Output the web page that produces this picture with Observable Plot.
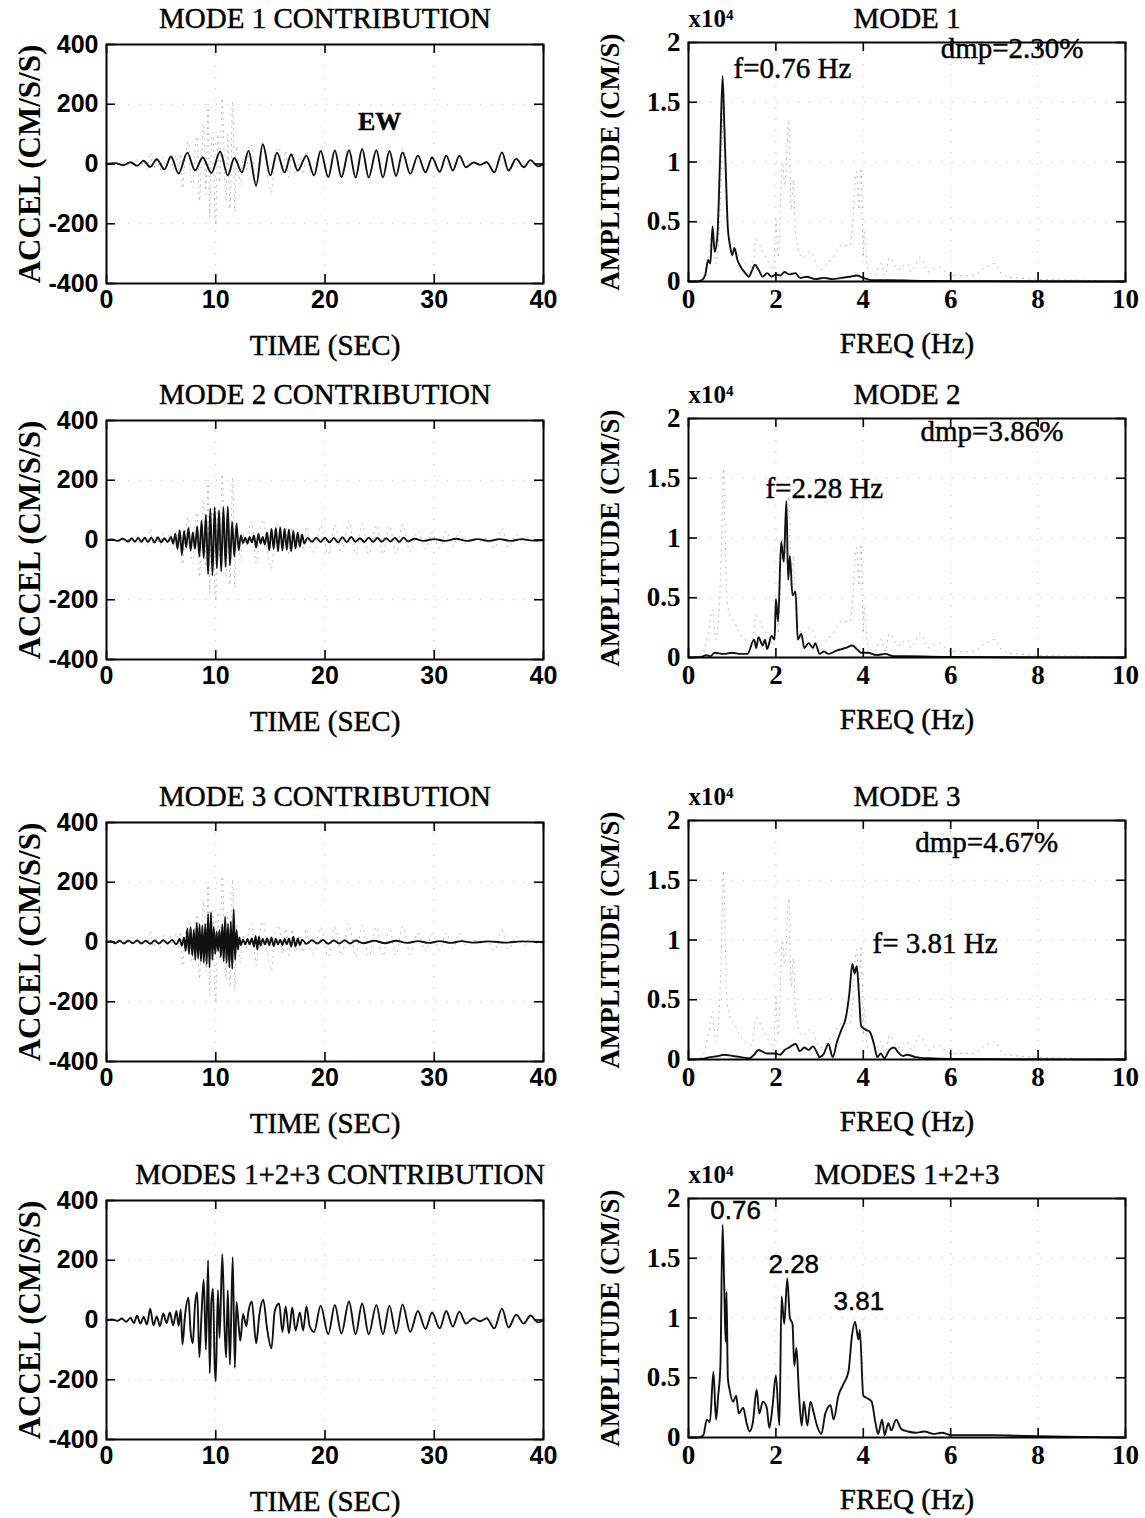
<!DOCTYPE html>
<html><head><meta charset="utf-8">
<script src="https://cdn.jsdelivr.net/npm/d3@7"></script>
<script src="https://cdn.jsdelivr.net/npm/@observablehq/plot@0.6"></script>
<style>
body{margin:0;background:#fff;}
#page{position:relative;width:1145px;height:1518px;overflow:hidden;background:#fff}
.panel{position:absolute}
</style></head><body><div id="page"></div>
<script>
// ---------- tick values ----------
const timeTicks = [0, 10, 20, 30, 40];
const accelTicks = [-400, -200, 0, 200, 400];
const freqTicks = [0, 2, 4, 6, 8, 10];
const ampTicks = [0, 0.5, 1, 1.5, 2];

// ---------- acceleration time histories [time s, accel cm/s/s] ----------
const mode1Accel = [[0,0],[0.8,3],[1.5,-4],[2.2,6],[2.8,-6],[3.4,11],[4.0,-10],[4.6,16],[5.3,-18],[5.9,25],[6.6,-32],[7.4,38],[8.1,-22],[8.8,22],[9.6,-30],[10.4,42],[11.1,-38],[11.7,20],[12.4,-28],[13.0,44],[13.7,-72],[14.3,66],[15.0,-38],[15.6,38],[16.3,-28],[16.9,32],[17.5,-22],[18.3,28],[19.0,-38],[19.6,44],[20.3,-44],[20.9,45],[21.5,-44],[22.2,46],[22.8,-45],[23.4,50],[24.0,-45],[24.7,46],[25.3,-45],[25.9,44],[26.5,-40],[27.1,39],[27.8,-33],[28.5,28],[29.2,-28],[29.8,22],[30.5,-26],[31.1,28],[31.7,-22],[32.3,28],[32.9,-11],[33.6,5],[34.2,-3],[34.8,6],[35.5,-28],[36.2,39],[36.8,-22],[37.5,17],[38.2,-11],[38.8,13],[39.5,-8],[40,0]];

const mode2Accel = [[0,0],[0.5,2],[1.0,-3],[1.5,4],[2.0,-5],[2.3,6],[2.6,-6],[2.9,7],[3.2,-6],[3.5,8],[3.8,-7],[4.1,8],[4.4,-8],[4.7,9],[5.0,-8],[5.3,6],[5.6,-7],[5.9,10],[6.1,-12],[6.3,20],[6.5,-30],[6.7,33],[6.9,-50],[7.1,30],[7.3,-25],[7.5,40],[7.7,-35],[7.9,25],[8.1,-30],[8.3,45],[8.5,-55],[8.7,65],[8.9,-60],[9.1,85],[9.3,-115],[9.5,105],[9.7,-118],[9.9,110],[10.1,-95],[10.3,100],[10.5,-105],[10.7,110],[10.9,-90],[11.1,112],[11.3,-85],[11.5,60],[11.7,-55],[11.9,55],[12.1,-35],[12.3,15],[12.5,-10],[12.7,8],[12.9,-12],[13.1,10],[13.3,-8],[13.5,15],[13.7,-25],[13.9,20],[14.1,-12],[14.3,10],[14.5,-15],[14.7,25],[14.9,-35],[15.1,38],[15.3,-30],[15.5,40],[15.7,-38],[15.9,42],[16.1,-35],[16.3,38],[16.5,-32],[16.7,35],[16.9,-38],[17.1,30],[17.3,-28],[17.5,25],[17.7,-22],[17.9,18],[18.1,-12],[18.4,8],[18.8,-6],[19.2,8],[19.6,-7],[20.0,8],[20.4,-8],[20.8,7],[21.2,-8],[21.6,9],[22.0,-7],[22.4,10],[22.8,-6],[23.2,6],[23.6,-7],[24.0,8],[24.4,-6],[24.8,7],[25.2,-6],[25.6,6],[26.0,-5],[26.4,7],[26.8,-6],[27.2,8],[27.6,-5],[28.2,4],[29,-3],[30,3],[31,-3],[32,4],[33,-3],[34,3],[35,-3],[36,3],[37,-3],[38,3],[39,-2],[40,0]];

const mode3Accel = [[0,0],[0.4,3],[0.8,-4],[1.2,4],[1.6,-5],[2.0,5],[2.4,-4],[2.8,5],[3.2,-5],[3.6,4],[4.0,-6],[4.4,5],[4.8,-5],[5.2,6],[5.6,-5],[6.0,7],[6.4,-8],[6.7,10],[6.9,-12],[7.1,15],[7.25,-30],[7.4,45],[7.55,-40],[7.7,50],[7.85,-45],[8.0,40],[8.13,-60],[8.26,65],[8.39,-55],[8.52,60],[8.65,-65],[8.78,55],[8.91,-70],[9.04,60],[9.17,-75],[9.3,95],[9.43,-85],[9.56,100],[9.69,-60],[9.82,50],[9.95,-40],[10.08,35],[10.21,-30],[10.34,40],[10.47,-50],[10.6,60],[10.73,-65],[10.86,85],[10.99,-70],[11.12,60],[11.25,-85],[11.38,70],[11.51,-90],[11.64,110],[11.77,-60],[11.9,40],[12.03,-25],[12.16,15],[12.3,-10],[12.5,8],[12.7,-8],[12.9,10],[13.1,-8],[13.3,12],[13.5,-15],[13.65,20],[13.8,-25],[13.95,18],[14.1,-12],[14.3,10],[14.5,-8],[14.7,12],[14.9,-10],[15.1,15],[15.3,-14],[15.5,10],[15.7,-8],[15.9,8],[16.1,-10],[16.3,10],[16.5,-8],[16.7,12],[16.9,-15],[17.1,18],[17.3,-15],[17.5,12],[17.7,-10],[17.9,8],[18.3,-6],[18.8,6],[19.3,-5],[19.8,7],[20.3,-6],[20.8,5],[21.3,-5],[21.8,6],[22.3,-5],[22.8,5],[23.5,-4],[24.5,4],[25.5,-4],[26.5,4],[27.5,-3],[28.5,3],[29.5,-3],[30.5,3],[31.5,-3],[32.5,3],[33.5,-2],[35,2],[36.5,-2],[38,2],[40,0]];

const combinedAccel = [[0,0],[0.5,2],[1.0,-3],[1.4,5],[1.8,-6],[2.2,8],[2.5,-10],[2.8,14],[3.1,-12],[3.4,10],[3.7,-15],[4.0,38],[4.3,-18],[4.6,12],[4.9,-20],[5.2,22],[5.5,-10],[5.8,25],[6.1,-18],[6.4,30],[6.6,-20],[6.8,35],[6.95,-82],[7.2,20],[7.5,75],[7.7,-40],[7.9,-78],[8.1,50],[8.3,92],[8.5,-125],[8.7,20],[8.9,135],[9.1,-100],[9.3,200],[9.45,-178],[9.6,60],[9.75,105],[9.9,-150],[10.0,-205],[10.2,100],[10.35,-60],[10.6,220],[10.8,-20],[10.95,-125],[11.1,100],[11.3,-150],[11.55,210],[11.75,-160],[11.9,60],[12.1,-20],[12.25,-70],[12.5,20],[12.8,-20],[13.0,30],[13.3,62],[13.7,-78],[14.0,20],[14.35,68],[14.7,-30],[15.1,-95],[15.4,30],[15.8,55],[16.1,-40],[16.4,45],[16.7,-45],[17.0,42],[17.3,-35],[17.7,25],[18.0,-35],[18.3,45],[18.6,-20],[19.0,-40],[19.6,48],[20.3,-48],[20.9,50],[21.5,-45],[22.2,62],[22.8,-48],[23.4,55],[24.0,-48],[24.7,50],[25.3,-48],[25.9,48],[26.5,-45],[27.1,52],[27.8,-40],[28.5,30],[29.2,-30],[29.8,25],[30.5,-28],[31.1,30],[31.7,-22],[32.3,28],[32.9,-12],[33.6,6],[34.2,-4],[34.8,6],[35.5,-28],[36.2,38],[36.8,-25],[37.5,18],[38.2,-12],[38.8,15],[39.5,-8],[40,0]];

// ---------- Fourier amplitude spectra [freq Hz, amplitude x10^4 cm/s] ----------
const mode1Spec = [[0,0],[0.2,0],[0.3,0.01],[0.38,0.05],[0.45,0.18],[0.5,0.15],[0.55,0.46],[0.6,0.25],[0.66,0.38],[0.72,1.0],[0.78,1.72],[0.82,1.3],[0.86,0.85],[0.9,0.45],[0.95,0.3],[1.0,0.22],[1.05,0.28],[1.12,0.18],[1.2,0.12],[1.3,0.07],[1.38,0.04],[1.45,0.09],[1.52,0.14],[1.6,0.1],[1.7,0.04],[1.8,0.07],[1.9,0.04],[2.0,0.06],[2.1,0.05],[2.2,0.08],[2.3,0.06],[2.45,0.07],[2.55,0.03],[2.7,0.04],[2.9,0.02],[3.1,0.03],[3.3,0.02],[3.5,0.03],[3.7,0.04],[3.85,0.05],[4.0,0.03],[4.2,0.01],[4.6,0.01],[5.5,0.005],[7,0.003],[10,0]];

const mode2Spec = [[0,0],[0.3,0.005],[0.4,0.02],[0.5,0.01],[0.6,0.04],[0.8,0.03],[1.0,0.04],[1.2,0.03],[1.35,0.03],[1.5,0.15],[1.55,0.08],[1.6,0.17],[1.7,0.1],[1.75,0.15],[1.8,0.07],[1.9,0.18],[1.97,0.15],[2.0,0.49],[2.05,0.3],[2.12,0.97],[2.18,0.8],[2.24,1.31],[2.28,0.65],[2.32,0.85],[2.38,0.52],[2.45,0.55],[2.5,0.15],[2.58,0.2],[2.65,0.08],[2.75,0.12],[2.85,0.08],[2.9,0.12],[3.0,0.03],[3.1,0.05],[3.2,0.03],[3.4,0.06],[3.5,0.07],[3.6,0.08],[3.75,0.1],[3.85,0.07],[3.95,0.04],[4.1,0.04],[4.3,0.02],[4.5,0.03],[4.7,0.01],[5,0.01],[6,0.005],[10,0]];

const mode3Spec = [[0,0],[0.3,0.005],[0.5,0.02],[0.7,0.03],[0.8,0.04],[1.0,0.03],[1.2,0.02],[1.4,0.01],[1.5,0.04],[1.6,0.08],[1.8,0.05],[2.0,0.05],[2.1,0.04],[2.2,0.08],[2.3,0.1],[2.45,0.13],[2.55,0.07],[2.65,0.1],[2.75,0.08],[2.85,0.11],[2.95,0.05],[3.0,0.02],[3.1,0.05],[3.2,0.13],[3.3,0.02],[3.4,0.15],[3.5,0.25],[3.6,0.35],[3.68,0.55],[3.75,0.8],[3.8,0.72],[3.85,0.78],[3.9,0.55],[3.95,0.28],[4.05,0.25],[4.15,0.23],[4.25,0.12],[4.32,0.02],[4.4,0.05],[4.48,0.01],[4.6,0.08],[4.7,0.1],[4.8,0.06],[4.9,0.03],[5.0,0.04],[5.2,0.02],[5.5,0.01],[6,0.005],[10,0]];

const combinedSpec = [[0,0],[0.23,0],[0.34,0.02],[0.42,0.15],[0.49,0.13],[0.57,0.55],[0.63,0.15],[0.68,0.35],[0.73,0.6],[0.78,1.78],[0.82,1.22],[0.85,0.8],[0.87,1.22],[0.9,0.5],[0.94,0.4],[1.02,0.3],[1.09,0.35],[1.15,0.2],[1.25,0.25],[1.33,0.12],[1.4,0.05],[1.47,0.12],[1.56,0.4],[1.62,0.2],[1.7,0.3],[1.79,0.25],[1.85,0.08],[1.92,0.25],[2.0,0.52],[2.08,0.1],[2.13,1.18],[2.19,0.95],[2.26,1.33],[2.32,1.0],[2.38,0.95],[2.42,0.6],[2.47,0.75],[2.53,0.35],[2.59,0.1],[2.64,0.3],[2.72,0.1],[2.79,0.3],[2.87,0.2],[2.94,0.1],[3.04,0.03],[3.13,0.2],[3.25,0.27],[3.32,0.15],[3.43,0.35],[3.55,0.45],[3.66,0.55],[3.74,0.85],[3.81,0.97],[3.89,0.82],[3.92,0.9],[4.0,0.35],[4.08,0.33],[4.19,0.3],[4.28,0.12],[4.34,0.03],[4.43,0.15],[4.49,0.02],[4.57,0.12],[4.64,0.06],[4.75,0.15],[4.87,0.07],[5.02,0.05],[5.2,0.04],[5.4,0.05],[5.6,0.03],[5.8,0.04],[6.0,0.02],[6.5,0.02],[7.0,0.02],[7.5,0.015],[8.0,0.01],[9,0.005],[10,0]];

const recordedSpec = [[0,0],[0.3,0.02],[0.45,0.2],[0.55,0.4],[0.62,0.15],[0.7,0.4],[0.76,1.0],[0.8,1.58],[0.84,1.0],[0.88,0.5],[0.95,0.35],[1.05,0.3],[1.15,0.22],[1.3,0.15],[1.45,0.12],[1.55,0.35],[1.7,0.25],[1.85,0.15],[1.95,0.1],[2.0,0.52],[2.05,0.2],[2.15,1.0],[2.2,0.8],[2.3,1.35],[2.35,0.6],[2.4,0.85],[2.45,0.4],[2.6,0.2],[2.8,0.25],[3.0,0.1],[3.3,0.2],[3.5,0.3],[3.7,0.3],[3.85,0.92],[3.9,0.6],[3.95,0.95],[4.0,0.2],[4.02,0.42],[4.1,0.1],[4.25,0.05],[4.4,0.15],[4.5,0.05],[4.6,0.2],[4.8,0.1],[5.0,0.15],[5.1,0.08],[5.3,0.2],[5.5,0.08],[5.7,0.12],[6.0,0.05],[6.5,0.05],[6.8,0.12],[7.0,0.15],[7.2,0.05],[7.5,0.03],[8,0.02],[9,0.01],[10,0]];

// ---------- rendering ----------
const SERIF = "'Liberation Serif','Times New Roman',serif";
const SANS = "'Liberation Sans',Arial,sans-serif";
const page = document.getElementById("page");
const INK = {fill: "#000", stroke: "#000", strokeWidth: 0.45};

function panel(cfg) {
  const frameW = 437, frameH = 239, marginTop = 40, marginBottom = 100;
  const width = cfg.marginLeft + frameW + cfg.marginRight;
  const height = marginTop + frameH + marginBottom;
  const fmt = d => String(d);
  const marks = [
    Plot.gridX({ticks: cfg.xTicks.slice(1, -1), stroke: "#555", strokeOpacity: 0.35, strokeDasharray: "1,10"}),
    Plot.gridY({ticks: cfg.yTicks.slice(1, -1), stroke: "#555", strokeOpacity: 0.35, strokeDasharray: "1,10"})
  ];
  if (cfg.overlay) marks.push(Plot.line(cfg.overlay, {x: d => d[0], y: d => d[1], stroke: "#777", strokeOpacity: 0.55, strokeWidth: 1, strokeDasharray: "1,5", curve: "monotone-x"}));
  marks.push(
    Plot.line(cfg.series, {x: d => d[0], y: d => d[1], stroke: "#111", strokeWidth: 1.9, curve: "monotone-x"}),
    Plot.frame({stroke: "#000", strokeWidth: 2}),
    Plot.tickX(cfg.xTicks, {x: d => d, insetTop: frameH - 9, stroke: "#000", strokeWidth: 1.6}),
    Plot.tickX(cfg.xTicks, {x: d => d, insetBottom: frameH - 9, stroke: "#000", strokeWidth: 1.6}),
    Plot.tickY(cfg.yTicks, {y: d => d, insetRight: frameW - 9, stroke: "#000", strokeWidth: 1.6}),
    Plot.tickY(cfg.yTicks, {y: d => d, insetLeft: frameW - 9, stroke: "#000", strokeWidth: 1.6}),
    Plot.axisX({ticks: cfg.xTicks, tickSize: 0, tickPadding: 7, fontSize: cfg.tickSize, fontWeight: "bold", fontFamily: cfg.tickFont, tickFormat: fmt, label: null}),
    Plot.axisY({ticks: cfg.yTicks, tickSize: 0, tickPadding: 8, fontSize: cfg.tickSize, fontWeight: "bold", fontFamily: cfg.tickFont, tickFormat: fmt, label: null}),
    Plot.text([cfg.title], {text: d => d, frameAnchor: "top", lineAnchor: "middle", dy: cfg.titleDy, dx: cfg.titleDx || 0, fontSize: 29, fontFamily: SERIF, ...INK}),
    Plot.text([cfg.xLabel], {text: d => d, frameAnchor: "bottom", lineAnchor: "middle", dy: 62, fontSize: 29, fontFamily: SERIF, ...INK}),
    Plot.text([cfg.yLabel], {text: d => d, frameAnchor: "left", textAnchor: "middle", lineAnchor: "middle", dx: cfg.yLabelOffset, rotate: -90, fontSize: cfg.yLabelSize, fontWeight: "bold", fontFamily: SERIF})
  );
  if (cfg.scaleNote) marks.push(Plot.text([cfg.scaleNote], {text: d => d, frameAnchor: "top-left", lineAnchor: "middle", dy: -24, textAnchor: "start", fontSize: 25, fontWeight: "bold", fontFamily: SERIF}));
  for (const n of cfg.notes || []) {
    marks.push(Plot.text([n], {x: d => d.x, y: d => d.y, text: d => d.text, lineAnchor: "middle", textAnchor: n.anchor || "start", fontSize: n.size || 29, fontWeight: n.bold ? "bold" : "normal", fontFamily: n.font || SERIF, ...INK}));
  }
  const svg = Plot.plot({
    width, height, marginLeft: cfg.marginLeft, marginRight: cfg.marginRight, marginTop, marginBottom,
    x: {domain: cfg.xDomain, axis: null},
    y: {domain: cfg.yDomain, axis: null},
    style: {fontFamily: SERIF, background: "transparent", overflow: "visible", color: "#000"},
    marks
  });
  const wrap = document.createElement("div");
  wrap.className = "panel";
  wrap.style.left = cfg.left + "px";
  wrap.style.top = (cfg.frameTop - marginTop) + "px";
  wrap.appendChild(svg);
  page.appendChild(wrap);
}

const timeBase = {left: 0, marginLeft: 106, marginRight: 29, xDomain: [0, 40], yDomain: [-400, 400], xTicks: timeTicks, yTicks: accelTicks, xLabel: "TIME (SEC)", yLabel: "ACCEL (CM/S/S)", yLabelSize: 31, yLabelOffset: -76, tickFont: SANS, tickSize: 25, titleDy: -26};
const freqBase = {left: 572, marginLeft: 116, marginRight: 20, xDomain: [0, 10], yDomain: [0, 2], xTicks: freqTicks, yTicks: ampTicks, xLabel: "FREQ (Hz)", yLabel: "AMPLITUDE (CM/S)", yLabelSize: 27, yLabelOffset: -78, tickFont: SERIF, tickSize: 27, scaleNote: "x10⁴", titleDy: -24};

panel({...timeBase, frameTop: 44, title: "MODE 1 CONTRIBUTION", series: mode1Accel, overlay: combinedAccel, notes: [{text: "EW", x: 25, y: 143, anchor: "middle", bold: true, size: 26}]});
panel({...freqBase, frameTop: 42, title: "MODE 1", series: mode1Spec, overlay: recordedSpec, notes: [{text: "f=0.76 Hz", x: 1.03, y: 1.78}, {text: "dmp=2.30%", x: 5.77, y: 1.95}]});
panel({...timeBase, frameTop: 420, title: "MODE 2 CONTRIBUTION", series: mode2Accel, overlay: combinedAccel});
panel({...freqBase, frameTop: 418, title: "MODE 2", series: mode2Spec, overlay: recordedSpec, notes: [{text: "dmp=3.86%", x: 5.31, y: 1.89}, {text: "f=2.28 Hz", x: 1.76, y: 1.41}]});
panel({...timeBase, frameTop: 822, title: "MODE 3 CONTRIBUTION", series: mode3Accel, overlay: combinedAccel});
panel({...freqBase, frameTop: 820, title: "MODE 3", series: mode3Spec, overlay: recordedSpec, notes: [{text: "dmp=4.67%", x: 5.19, y: 1.81}, {text: "f= 3.81 Hz", x: 4.21, y: 0.97}]});
panel({...timeBase, frameTop: 1200, title: "MODES 1+2+3 CONTRIBUTION", titleDx: 15, series: combinedAccel});
panel({...freqBase, frameTop: 1198, title: "MODES 1+2+3", series: combinedSpec, notes: [{text: "0.76", x: 0.5, y: 1.9, font: SANS, size: 26}, {text: "2.28", x: 1.83, y: 1.45, font: SANS, size: 26}, {text: "3.81", x: 3.32, y: 1.14, font: SANS, size: 26}]});
</script>
</body></html>
